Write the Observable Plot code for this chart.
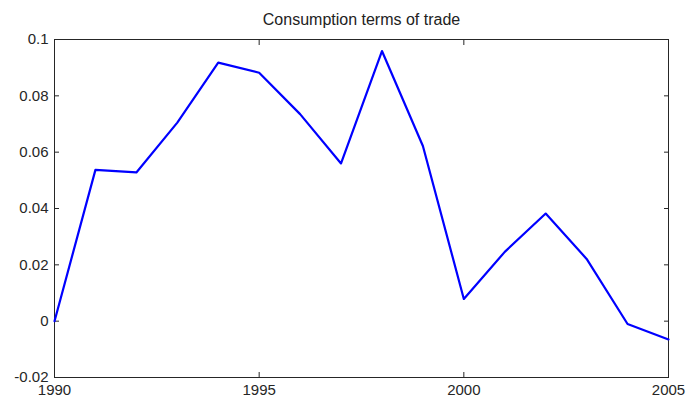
<!DOCTYPE html>
<html>
<head>
<meta charset="utf-8">
<script src="https://cdn.jsdelivr.net/npm/d3@7"></script>
<script src="https://cdn.jsdelivr.net/npm/@observablehq/plot@0.6"></script>
<style>
  html, body { margin: 0; padding: 0; background: #fff; }
</style>
</head>
<body>
<div id="chart"></div>
<script>
const title = "Consumption terms of trade";
const years = [1990, 1991, 1992, 1993, 1994, 1995, 1996, 1997, 1998, 1999, 2000, 2001, 2002, 2003, 2004, 2005];
const values = [0.0, 0.0537, 0.0528, 0.0705, 0.0918, 0.0882, 0.0735, 0.0560, 0.0959, 0.0622, 0.0079, 0.0246, 0.0382, 0.0221, -0.0010, -0.0065];
const xTicks = [1990, 1995, 2000, 2005];
const yTicks = [-0.02, 0, 0.02, 0.04, 0.06, 0.08, 0.1];

const data = years.map((y, i) => ({year: y, value: values[i]}));
const ink = "#262626";

const chart = Plot.plot({
  width: 689,
  height: 404,
  marginLeft: 54,
  marginRight: 21,
  marginTop: 39,
  marginBottom: 27,
  style: {fontFamily: "'Liberation Sans', Arial, sans-serif", fontSize: "15px", color: ink, background: "#fff"},
  x: {domain: [1990, 2005]},
  y: {domain: [-0.02, 0.1]},
  marks: [
    Plot.frame({stroke: ink, strokeWidth: 1}),
    Plot.axisY(yTicks, {anchor: "left", tickSize: -5, tickPadding: 11, tickFormat: d => String(d), fontSize: 15, label: null}),
    Plot.axisY(yTicks, {anchor: "right", tickSize: -5, tickFormat: () => "", label: null}),
    Plot.axisX(xTicks, {anchor: "bottom", tickSize: -5, tickPadding: 12, tickFormat: d => String(d), fontSize: 15, label: null}),
    Plot.axisX(xTicks, {anchor: "top", tickSize: -5, tickFormat: () => "", label: null}),
    Plot.lineY(data, {x: "year", y: "value", stroke: "#0000ff", strokeWidth: 2.2}),
    Plot.text([title], {frameAnchor: "top", lineAnchor: "middle", dy: -20, fontSize: 16, fill: "#222"})
  ]
});
document.getElementById("chart").appendChild(chart);
</script>
</body>
</html>
